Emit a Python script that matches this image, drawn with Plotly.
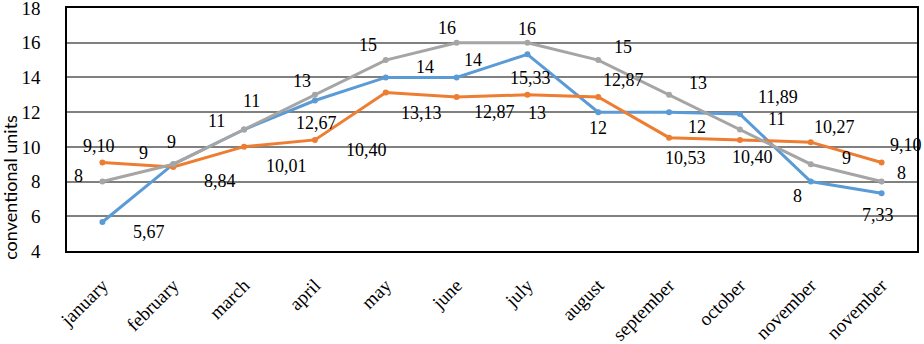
import plotly.graph_objects as go

months = ["january", "february", "march", "april", "may", "june", "july",
          "august", "september", "october", "november", "november"]
blue_vals = [5.67, 9, 11, 12.67, 14, 14, 15.33, 12, 12, 11.89, 8, 7.33]
orange_vals = [9.10, 8.84, 10.01, 10.40, 13.13, 12.87, 13, 12.87, 10.53, 10.40, 10.27, 9.10]
gray_vals = [8, 9, 11, 13, 15, 16, 16, 15, 13, 11, 9, 8]
y_ticks = [4, 6, 8, 10, 12, 14, 16, 18]

# label offsets in pixels (dx right, dy down) - styling only
blue_off = [(47, 10), (-2, -22), (7, -29), (2, 22), (39, -10), (16, -17), (3, 24),
            (0, 16), (28, 15), (38, -17), (-13, 14), (-4, 22)]
orange_off = [(-3, -16), (47, 14), (42, 19), (52, 10), (36, 20), (38, 15), (10, 18),
              (25, -17), (16, 20), (13, 17), (24, -15), (24, -17)]
gray_off = [(-24, -6), (-30, -11), (-28, -9), (-13, -14), (-18, -15), (-10, -15), (0, -14),
            (25, -13), (29, -12), (37, -11), (36, -6), (20, -9)]

SERIF = "Liberation Serif"

xs = list(range(len(months)))

def fmt(v):
    if float(v).is_integer():
        return str(int(v))
    return f"{v:.2f}".replace(".", ",")

fig = go.Figure()
series = [("blue", blue_vals, "#5B9BD5", blue_off),
          ("orange", orange_vals, "#ED7D31", orange_off),
          ("gray", gray_vals, "#A5A5A5", gray_off)]
for name, vals, col, off in series:
    fig.add_trace(go.Scatter(x=xs, y=vals, mode="lines+markers", name=name,
                             line=dict(color=col, width=3),
                             marker=dict(color=col, size=6),
                             showlegend=False, hoverinfo="skip"))

annotations = []
for name, vals, col, off in series:
    for x, v, (dx, dy) in zip(xs, vals, off):
        annotations.append(dict(x=x, y=v, xref="x", yref="y", text=fmt(v),
                                showarrow=False, xshift=dx, yshift=-dy,
                                xanchor="center", yanchor="middle",
                                font=dict(family=SERIF, size=18, color="black")))

annotations.append(dict(x=0, y=0.26, xref="paper", yref="paper",
                        text="conventional units", showarrow=False, textangle=-90,
                        xanchor="center", yanchor="middle", xshift=-57,
                        font=dict(family="Lato", size=18, color="black")))

fig.update_layout(
    width=924, height=344,
    margin=dict(l=67, r=7, t=8, b=93, autoexpand=False),
    paper_bgcolor="white", plot_bgcolor="white",
    annotations=annotations,
    xaxis=dict(range=[-0.5, len(months) - 0.5], tickvals=xs, ticktext=months,
               tickangle=-45, showgrid=False, zeroline=False, automargin=False,
               showline=True, linecolor="black", linewidth=1.5, mirror=True,
               ticks="", ticklabelstandoff=14,
               tickfont=dict(family=SERIF, size=19, color="black")),
    yaxis=dict(range=[4, 18], tickvals=y_ticks, showgrid=True, gridcolor="#808080",
               gridwidth=1.5, zeroline=False, automargin=False,
               showline=True, linecolor="black", linewidth=1.5, mirror=True,
               ticks="", ticklabelstandoff=21, ticklabeloverflow="allow",
               tickfont=dict(family=SERIF, size=19, color="black")),
)

fig.write_html("out.html", config={"displayModeBar": False},
               post_script="document.body.style.margin='0px';document.body.style.overflow='hidden';")
